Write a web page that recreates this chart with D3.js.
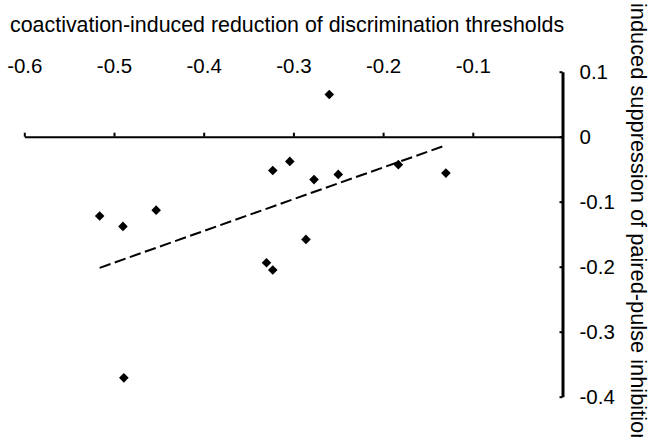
<!DOCTYPE html>
<html><head><meta charset="utf-8">
<script src="https://cdn.jsdelivr.net/npm/d3@7"></script>
<style>body{margin:0;background:#fff;overflow:hidden} svg{display:block;font-family:"Liberation Sans",Arial,sans-serif}</style>
</head><body><svg id="c" width="648" height="437"></svg>
<script>
// ---- data ----
const xTicks = [-0.6, -0.5, -0.4, -0.3, -0.2, -0.1, 0];
const xTickLabels = ["-0.6", "-0.5", "-0.4", "-0.3", "-0.2", "-0.1", ""];
const yTicks = [0.1, 0, -0.1, -0.2, -0.3, -0.4];
const yTickLabels = ["0.1", "0", "-0.1", "-0.2", "-0.3", "-0.4"];
const thresholdReduction = [-0.516, -0.490, -0.453, -0.489, -0.323, -0.304, -0.277, -0.250, -0.183, -0.130, -0.286, -0.330, -0.323, -0.260];
const ppiSuppression    = [-0.122, -0.138, -0.113, -0.371, -0.052, -0.038, -0.066, -0.058, -0.043, -0.056, -0.158, -0.194, -0.205, 0.065];
const xTitle = "coactivation-induced reduction of discrimination thresholds";
const yTitle = "induced suppression of paired-pulse inhibition";

const svg = d3.select("#c");
const x = d3.scaleLinear().domain([-0.6, 0]).range([24.3, 562.5]);
const y = d3.scaleLinear().domain([-0.4, 0.1]).range([396.7, 71.7]);

// x axis (top labels)
const xAxis = d3.axisTop(x).tickValues(xTicks).tickSize(4).tickSizeOuter(0).tickPadding(59.5)
  .tickFormat((d, i) => xTickLabels[i]);
const gx = svg.append("g").attr("transform", `translate(0,${y(0)})`).call(xAxis);
gx.select(".domain").attr("stroke", "#000").attr("stroke-width", 2);
gx.selectAll(".tick line").attr("stroke", "#000").attr("stroke-width", 2);
gx.selectAll(".tick text").attr("fill", "#000").attr("font-size", 20.5).attr("font-family", "Liberation Sans, Arial, sans-serif");

// y axis (right side)
const yAxis = d3.axisRight(y).tickValues(yTicks).tickSize(-3).tickSizeOuter(0).tickPadding(17)
  .tickFormat((d, i) => yTickLabels[i]);
const gy = svg.append("g").attr("transform", `translate(${x(0)},0)`).call(yAxis);
gy.select(".domain").attr("stroke", "#000").attr("stroke-width", 3);
gy.selectAll(".tick line").attr("stroke", "#000").attr("stroke-width", 2);
gy.selectAll(".tick text").attr("fill", "#000").attr("font-size", 20.5).attr("font-family", "Liberation Sans, Arial, sans-serif");

// titles
svg.append("text").attr("x", 10).attr("y", 31.5).attr("font-size", 21.4).attr("fill", "#000").text(xTitle);
svg.append("text").attr("transform", "translate(631,3) rotate(90)").attr("font-size", 21.8).attr("fill", "#000").text(yTitle);

// trend line (least squares)
const n = thresholdReduction.length;
const mx = d3.mean(thresholdReduction), my = d3.mean(ppiSuppression);
let sxy = 0, sxx = 0;
for (let i = 0; i < n; i++) { sxy += (thresholdReduction[i]-mx)*(ppiSuppression[i]-my); sxx += (thresholdReduction[i]-mx)**2; }
const slope = sxy / sxx, icpt = my - slope * mx;
const [x0, x1] = d3.extent(thresholdReduction);
svg.append("line")
  .attr("x1", x(x0)).attr("y1", y(icpt + slope*x0))
  .attr("x2", x(x1)).attr("y2", y(icpt + slope*x1))
  .attr("stroke", "#000").attr("stroke-width", 2).attr("stroke-dasharray", "11.5,4.5");

// points
const sym = d3.symbol().type(d3.symbolSquare).size(46);
svg.append("g").selectAll("path").data(d3.range(n)).join("path")
  .attr("d", sym)
  .attr("transform", i => `translate(${x(thresholdReduction[i])},${y(ppiSuppression[i])}) rotate(45)`)
  .attr("fill", "#000");
</script></body></html>
